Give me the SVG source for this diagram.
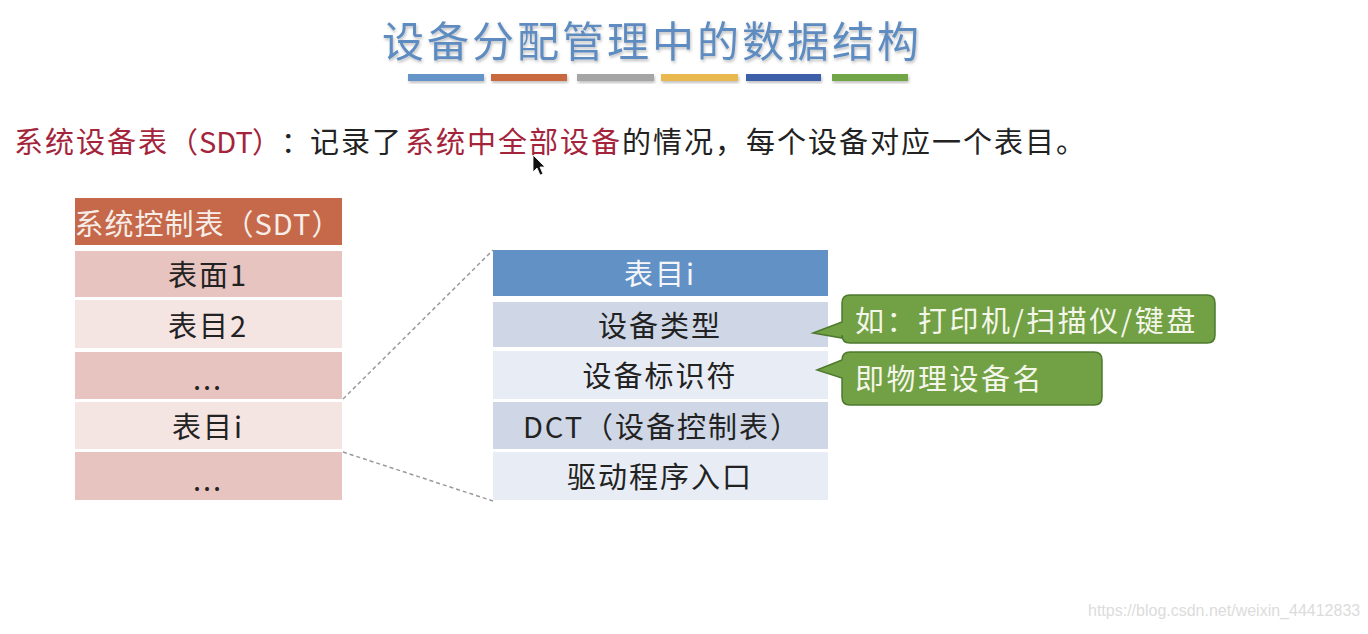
<svg xmlns="http://www.w3.org/2000/svg" width="1368" height="634" viewBox="0 0 1368 634">
<defs>
<filter id="sh" x="-10%" y="-30%" width="120%" height="160%">
<feDropShadow dx="1" dy="2" stdDeviation="1.5" flood-color="#000" flood-opacity="0.25"/>
</filter>
</defs>
<style>
text{font-family:"Noto Sans CJK SC","Noto Sans",sans-serif;}
.t{font-size:29px;letter-spacing:2px;fill:#222;dominant-baseline:central;text-anchor:middle;}
.sub{font-size:29px;letter-spacing:2px;fill:#222;dominant-baseline:central;}
.red{fill:#a3243b;}
.n{letter-spacing:0;}
.lh{fill:#c5694a;}
.ld{fill:#e7c4c0;}
.ll{fill:#f4e4e2;}
.rh{fill:#6191c5;}
.rd{fill:#cfd6e5;}
.rl{fill:#e8ecf4;}
.co{fill:#72a044;stroke:#4e7a2e;stroke-width:1.5;}
.cot{font-size:29px;letter-spacing:2.5px;fill:#f4f6ea;dominant-baseline:central;}
.dash{stroke:#9a9a9a;stroke-width:1.5;stroke-dasharray:4 3;fill:none;}
</style>
<rect width="1368" height="634" fill="#ffffff"/>

<g id="title">
<text x="652" y="38" filter="url(#sh)" style="font-size:42px;letter-spacing:3px;fill:#5f8cc0;dominant-baseline:central;text-anchor:middle;">设备分配管理中的数据结构</text>
<g filter="url(#sh)">
<rect x="408" y="74" width="76" height="7" fill="#6595c8"/>
<rect x="491" y="74" width="76" height="7" fill="#c8693f"/>
<rect x="577" y="74" width="77" height="7" fill="#a5a5a5"/>
<rect x="661" y="74" width="77" height="7" fill="#e9b94f"/>
<rect x="746" y="74" width="75" height="7" fill="#3d5ea8"/>
<rect x="832" y="74" width="76" height="7" fill="#70a646"/>
</g>
</g>

<g id="subtitle">
<text class="sub" y="140"><tspan x="14" class="red">系统设备表</tspan><tspan x="169" class="red n">（</tspan><tspan x="199" class="red n">SDT</tspan><tspan x="252" class="red n">）</tspan><tspan x="281" class="n">：</tspan><tspan x="310">记录了</tspan><tspan x="405" class="red">系统中全部设备</tspan><tspan x="622">的情况，每个设备对应一个表目。</tspan></text>
</g>

<g id="cursor">
<polygon points="533,155 533,172 537,168 540,175 543,174 540,167 545,167" fill="#111" stroke="#fff" stroke-width="0.8"/>
</g>

<g id="sdt-table">
<rect class="lh" x="75" y="198" width="267" height="47"/>
<text class="t" x="208" y="222" style="fill:#f7ede8;letter-spacing:1px;">系统控制表（SDT）</text>
<rect class="ld" x="75" y="251" width="267" height="46"/>
<text class="t" x="208" y="273">表面1</text>
<rect class="ll" x="75" y="300" width="267" height="48"/>
<text class="t" x="208" y="324">表目2</text>
<rect class="ld" x="75" y="352" width="267" height="47"/>
<text class="t" x="208" y="377">...</text>
<rect class="ll" x="75" y="402" width="267" height="47"/>
<text class="t" x="208" y="425">表目i</text>
<rect class="ld" x="75" y="452" width="267" height="48"/>
<text class="t" x="208" y="478">...</text>
</g>

<g id="connectors">
<line class="dash" x1="343" y1="399" x2="493" y2="250"/>
<line class="dash" x1="343" y1="452" x2="493" y2="501"/>
</g>

<g id="entry-table">
<rect class="rh" x="493" y="250" width="335" height="46"/>
<text class="t" x="660" y="272" style="fill:#f4f6fa;">表目i</text>
<rect class="rd" x="493" y="302" width="335" height="45"/>
<text class="t" x="660" y="324">设备类型</text>
<rect class="rl" x="493" y="351" width="335" height="48"/>
<text class="t" x="660" y="374">设备标识符</text>
<rect class="rd" x="493" y="402" width="335" height="47"/>
<text class="t" x="662" y="425">DCT（设备控制表）</text>
<rect class="rl" x="493" y="452" width="335" height="48"/>
<text class="t" x="660" y="475">驱动程序入口</text>
</g>

<g id="callout-type">
<path class="co" d="M850,295 H1207 Q1215,295 1215,303 V335 Q1215,343 1207,343 H850 Q842,343 842,335 V338 L813,333 L842,322 V303 Q842,295 850,295 Z"/>
<text class="cot" x="855" y="319">如：打印机/扫描仪/键盘</text>
</g>

<g id="callout-id">
<path class="co" d="M850,352 H1094 Q1102,352 1102,360 V397 Q1102,405 1094,405 H850 Q842,405 842,397 V378 L817,370 L842,360 Q842,352 850,352 Z"/>
<text class="cot" x="855" y="377">即物理设备名</text>
</g>

<text x="1088" y="616" style="font-family:'Liberation Sans',Arial,sans-serif;font-size:16px;fill:#dcdcdc;">https://blog.csdn.net/weixin_44412833</text>
</svg>
